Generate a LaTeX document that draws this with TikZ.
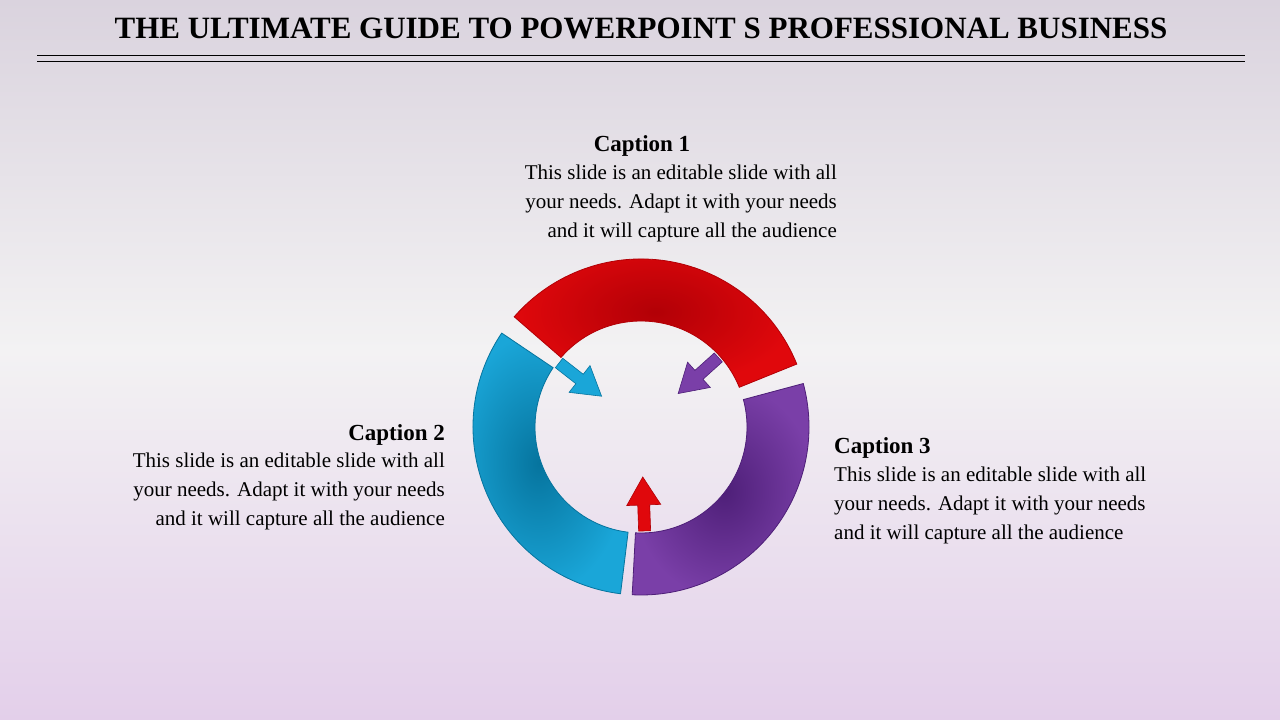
\documentclass[tikz,border=0pt]{standalone}
\usepackage{fontspec}
\setmainfont{Liberation Serif}
\usetikzlibrary{positioning}

\definecolor{bgtop}{HTML}{DAD3DE}
\definecolor{bgmid}{HTML}{F3F2F3}
\definecolor{bgbot}{HTML}{E3CFEA}
\definecolor{redA}{HTML}{E0080C}
\definecolor{redB}{HTML}{B20006}
\definecolor{blueA}{HTML}{1AA6D8}
\definecolor{blueB}{HTML}{06749E}
\definecolor{purA}{HTML}{7A3FA8}
\definecolor{purB}{HTML}{4E1F78}

\begin{document}
\begin{tikzpicture}[x=1pt,y=-1pt,
body/.style={font=\fontsize{21}{29}\selectfont, inner sep=0pt},
capt/.style={font=\fontsize{23}{28}\selectfont\bfseries, inner sep=0pt},
seg/.style={line width=0.8pt}]

%% background
\shade[top color=bgtop, bottom color=bgmid] (0,0) rectangle (1280,350);
\shade[top color=bgmid, bottom color=bgbot] (0,350) rectangle (1280,720);
\useasboundingbox (0,0) rectangle (1280,720);

%% title
\node[font=\fontsize{31}{36}\selectfont\bfseries, inner sep=0pt] (title) at (641,28)
      {THE ULTIMATE GUIDE TO POWERPOINT S PROFESSIONAL BUSINESS};
\draw[line width=0.8pt] (37,55) -- (1245,55);
\draw[line width=0.8pt] (37,61) -- (1245,61);

%% ring
\begin{scope}[shift={(641,427)}, yscale=-1]
  \def\Ro{168}
  \def\Ri{106}
  \foreach \a/\b/\ca/\cb in {22/139/redA/redB, -93/15/purA/purB, 146/263/blueA/blueB}{
    \shade[seg, draw=\cb, inner color=\cb, outer color=\ca]
      (\a:\Ro) arc[start angle=\a, end angle=\b, radius=\Ro]
      -- (\b:\Ri) arc[start angle=\b, end angle=\a, radius=\Ri] -- cycle;
  }
  %% inner arrows
  \foreach \t/\ca/\cb in {88/redA/redB, 218/blueA/blueB, -42/purA/purB}{
    \fill[\ca, draw=\cb, line width=0.6pt, rotate=\t]
      (104,-6) -- (78,-6) -- (78,-17) -- (50,0) -- (78,17) -- (78,6) -- (104,6) -- cycle;
  }
\end{scope}

%% captions
\node[capt] (c1) at (642,146) {Caption 1};
\node[body, anchor=north east, align=right] (t1) at (837,165)
  {This slide is an editable slide with all\\your needs. Adapt it with your needs\\and it will capture all the audience};

\node[capt, anchor=east] (c2) at (445,435) {Caption 2};
\node[body, anchor=north east, align=right] (t2) at (445,453)
  {This slide is an editable slide with all\\your needs. Adapt it with your needs\\and it will capture all the audience};

\node[capt, anchor=west] (c3) at (834,448) {Caption 3};
\node[body, anchor=north west, align=left] (t3) at (834,467)
  {This slide is an editable slide with all\\your needs. Adapt it with your needs\\and it will capture all the audience};
\end{tikzpicture}
\end{document}
